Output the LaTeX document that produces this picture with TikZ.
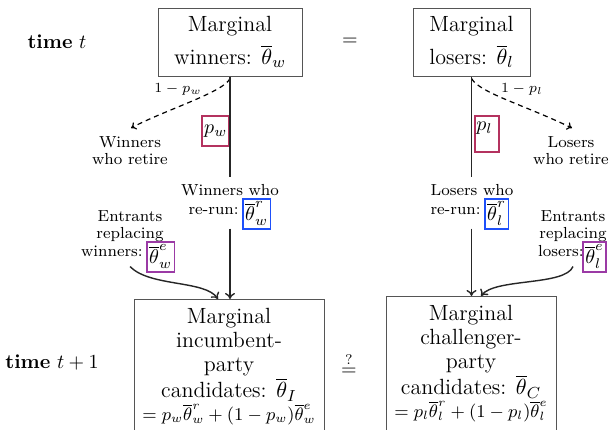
\documentclass[tikz,border=0pt]{standalone}
\usepackage{amsmath}
\usetikzlibrary{calc,arrows.meta}
\definecolor{pred}{RGB}{180,50,95}
\definecolor{pblue}{RGB}{30,80,250}
\definecolor{ppurple}{RGB}{155,58,165}
\definecolor{boxgray}{RGB}{85,85,85}
\begin{document}
\begin{tikzpicture}[x=0.5pt,y=-0.5pt,
  mainbox/.style={draw=boxgray, line width=0.5pt, align=center, inner sep=0pt, font=\fontsize{11}{12}\selectfont},
  boxtext/.style={align=center, inner sep=0pt, anchor=north, font=\fontsize{11}{12}\selectfont},
  sidetext/.style={font=\fontsize{8}{8.5}\selectfont, align=center, inner sep=0pt},
  sideword/.style={font=\fontsize{8}{8.5}\selectfont, inner sep=0pt},
  cbox/.style={draw=#1, line width=0.8pt, inner sep=1.2pt, minimum height=15pt},
  link/.style={line width=0.7pt, draw=black!85},
  tipped/.style={-{To[length=3pt,width=5pt]}},
  dashlink/.style={line width=0.6pt, dash pattern=on 2.5pt off 2pt, -{To[length=2.5pt,width=4pt]}},
  pbox/.style={draw=pred, line width=0.8pt, inner sep=0pt}
]
\clip (0,0) rectangle (609,429);
\fill[white] (0,0) rectangle (609,429);

% time labels
\node (tt) at (57,42) {\textbf{time} $t$};
\node (tt1) at (52,362) {\textbf{time} $t+1$};

% top boxes
\node[mainbox, minimum width=72pt, minimum height=34pt] (tw) at (230,42) {Marginal\\[3.5pt] winners: $\overline{\theta}_w$};
\node[mainbox, minimum width=58.5pt, minimum height=34pt] (tl) at (471.5,42) {Marginal\\[3.5pt] losers: $\overline{\theta}_l$};
\node (eq) at (350,42) {$=$};

% retire labels
\node[sidetext] (rw) at (130,151) {Winners\\who retire};
\node[sidetext] (rl) at (571,151) {Losers\\who retire};
\coordinate (rwtip) at (131,128);
\coordinate (rltip) at (572,128);
\draw[dashlink] ($(tw.south)+(0,2)$) .. controls (224,92) and (165,110) .. (rwtip);
\draw[dashlink] ($(tl.south)+(0,2)$) .. controls (480,93) and (522,104) .. (rltip);
\node[font=\scriptsize] (lw) at (178,89) {$1-p_w$};
\node[font=\scriptsize] (ll) at (522,89) {$1-p_l$};

% p boxes
\node[pbox, minimum width=13.5pt, minimum height=15pt, anchor=north east] (pw) at (230,115) {$p_w$};
\node[pbox, minimum width=12pt, minimum height=18pt, anchor=north west] (pl) at (474,115) {};
\node[anchor=north west, inner sep=0pt] (plt) at (476,121) {$p_l$};

% re-run labels (left)
\node[sideword, anchor=base] (ww) at (230,195) {Winners who};
\node[cbox=pblue, anchor=north west] (rwb) at (242,198) {$\overline{\theta}^r_w$};
\node[sideword, anchor=base east] (rwt) at (239,214) {re-run:};
% re-run labels (right)
\node[sideword, anchor=base] (wl) at (472,195) {Losers who};
\node[cbox=pblue, anchor=north west] (rlb) at (484,198) {$\overline{\theta}^r_l$};
\node[sideword, anchor=base east] (rlt) at (481,214) {re-run:};

% entrants labels (left)
\node[sidetext, anchor=base] (ew) at (130,238) {Entrants\\replacing};
\node[cbox=ppurple, anchor=north west] (ewb) at (146,241) {$\overline{\theta}^e_w$};
\node[sideword, anchor=base east] (ewt) at (143,256) {winners:};
% entrants labels (right)
\node[sidetext, anchor=base] (el) at (573,238) {Entrants\\replacing};
\node[cbox=ppurple, anchor=north east] (elb) at (607,241) {$\overline{\theta}^e_l$};
\node[sideword, anchor=base east] (elt) at (584,256) {losers:};

% bottom boxes
\node[draw=boxgray, line width=0.5pt, minimum width=95pt, minimum height=80pt, anchor=north] (bi) at (229,299) {};
\node[draw=boxgray, line width=0.5pt, minimum width=85pt, minimum height=80pt, anchor=north] (bc) at (471,296) {};
\node[boxtext] (bit) at (229,308) {Marginal\\incumbent-\\party\\candidates: $\overline{\theta}_I$\\[-0.5pt] {\small $= p_w\overline{\theta}^r_w + (1-p_w)\overline{\theta}^e_w$}};
\node[boxtext] (bct) at (471,305) {Marginal\\challenger-\\party\\candidates: $\overline{\theta}_C$\\[-0.5pt] {\small $= p_l\overline{\theta}^r_l + (1-p_l)\overline{\theta}^e_l$}};
\node (qeq) at (349,364) {$\stackrel{?}{=}$};

% vertical links
\draw[link] (tw.south) -- ($(tw.south |- ww.north)+(0,-7)$);
\draw[link] (tl.south) -- ($(tl.south |- wl.north)+(0,-7)$);
\draw[link, tipped] ($(tw.south |- rwb.south)+(0,-1)$) -- (tw.south |- bi.north);
\draw[link, tipped] ($(tl.south |- rlb.south)+(0,-1)$) -- (tl.south |- bc.north);

% curved entrant links
\coordinate (biin) at (218,299);
\coordinate (bcin) at (481,296);
\draw[link, tipped] ($(ewt.south -| ew.south)+(0,10)$) .. controls (150,287) and (205,280) .. (biin);
\draw[link, tipped] ($(elt.south -| el.south)+(0,10)$) .. controls (565,286) and (495,278) .. (bcin);
\end{tikzpicture}
\end{document}
